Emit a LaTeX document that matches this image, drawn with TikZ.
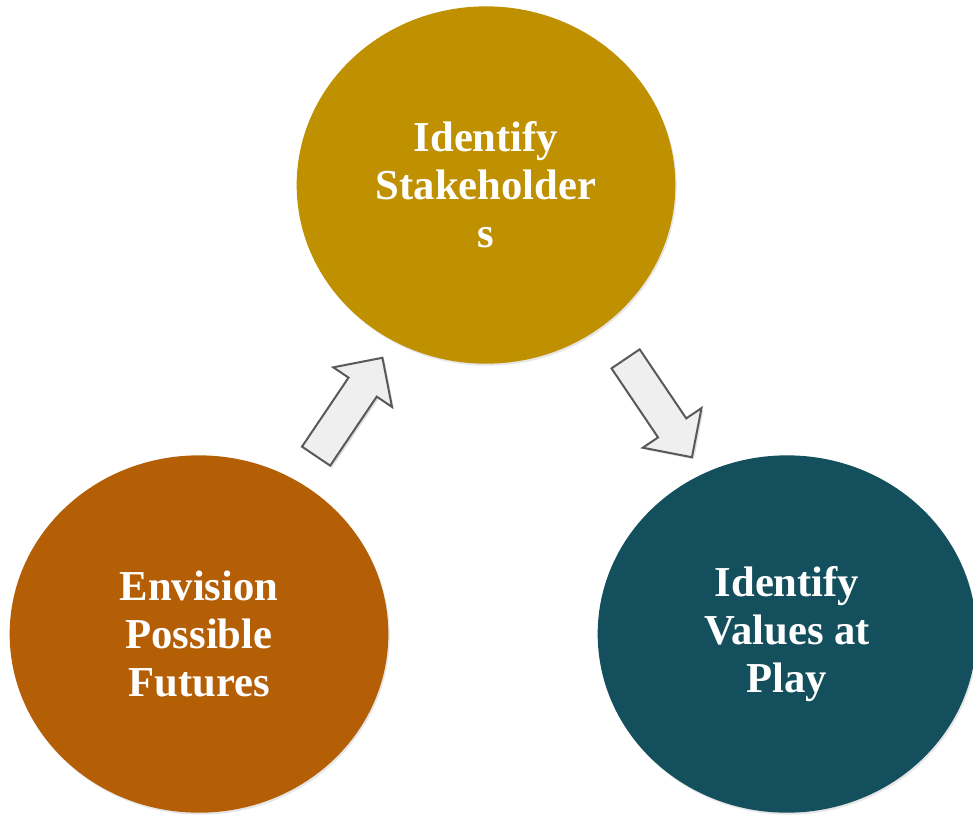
\documentclass[tikz,border=0pt]{standalone}
\usepackage{fontspec}
\setmainfont{Liberation Serif}
\usetikzlibrary{shapes.geometric,shapes.arrows,shadows}

\begin{document}
\begin{tikzpicture}[x=0.75pt,y=-0.75pt,
  stage/.style={ellipse,minimum width=284pt,minimum height=268pt,inner sep=0pt,
    text=white,align=center,font=\bfseries\fontsize{32}{36}\selectfont,
    drop shadow={opacity=0.2,shadow xshift=1pt,shadow yshift=-1.5pt}},
  turn/.style={single arrow,draw=arrowline,fill=arrowfill,line width=1.5pt,
    minimum height=89pt,inner xsep=0pt,inner ysep=12pt,
    single arrow head extend=13.8pt,single arrow tip angle=90,
    drop shadow={opacity=0.25,shadow xshift=1.5pt,shadow yshift=-1.5pt}}]
\definecolor{gold}{HTML}{BF9000}
\definecolor{rust}{HTML}{B45F06}
\definecolor{teal}{HTML}{134F5C}
\definecolor{arrowfill}{HTML}{EFEFEF}
\definecolor{arrowline}{HTML}{595959}
\useasboundingbox (0,0) rectangle (973,815);
  \foreach \nm/\crlr/\x/\y/\txt in {stake/gold/486/185/{Identify\\Stakeholder\\s},
     fut/rust/199/634/{Envision\\Possible\\Futures},
     vals/teal/787/634/{Identify\\Values at\\Play}}
  {  \node [stage,fill=\crlr] (\nm) at (\x,\y) {\txt};}
% arrows between the stages
\node [turn,rotate=56] (up) at (344.5,414) {};
\node [turn,rotate=-56] (down) at (654,401) {};
\end{tikzpicture}
\end{document}
